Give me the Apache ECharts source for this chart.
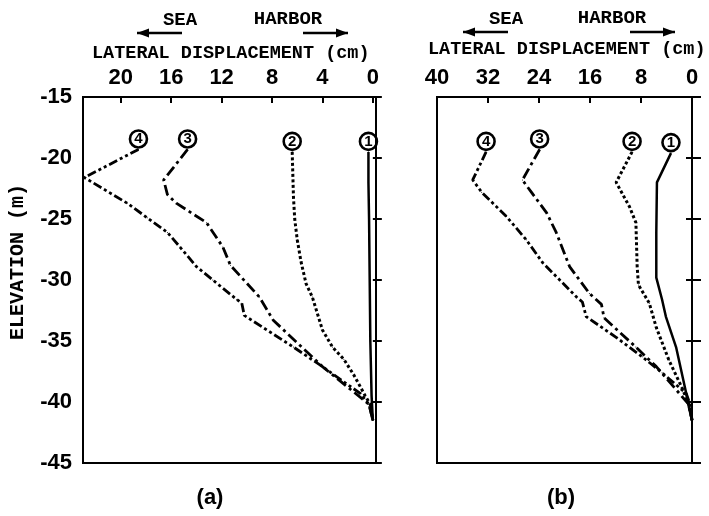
<!DOCTYPE html>
<html>
<head>
<meta charset="utf-8">
<script src="https://cdn.jsdelivr.net/npm/echarts@6/dist/echarts.min.js"></script>
<style>html,body{margin:0;padding:0;background:#fff}#c{width:709px;height:516px}</style>
</head>
<body>
<div id="c"></div>
<script>
// ---- data: [lateral displacement (cm), elevation (m)] ----
var ticksA = [0, 4, 8, 12, 16, 20];
var ticksB = [0, 8, 16, 24, 32, 40];
var curveNames = ['1', '2', '3', '4'];

var a1 = [[0.35,-19.5],[0.35,-22],[0.3,-25],[0.25,-30],[0.2,-35],[0.1,-39.5],[0,-41.5]];
var a2 = [[6.4,-19.5],[6.3,-23.2],[6.2,-25],[6.0,-26.7],[5.7,-28.5],[5.3,-30.3],[4.8,-31.4],[4.0,-34.1],[3.2,-35.5],[2.3,-36.5],[1.5,-37.8],[0.6,-39.5],[0.2,-40.2],[0,-41.5]];
var a3 = [[14.7,-19.3],[16.6,-21.8],[16.3,-23.0],[15.6,-23.7],[13.2,-25.3],[11.9,-27.3],[11.3,-28.8],[9.0,-31.4],[7.9,-33.3],[4.0,-37.1],[0.3,-40.2],[0,-41.5]];
var a4 = [[18.6,-19.3],[22.9,-21.6],[19.5,-23.7],[17.9,-24.9],[16.3,-26.1],[15.3,-27.3],[14.0,-28.9],[12.7,-30],[10.8,-31.6],[10.4,-31.9],[10.2,-32.9],[6.3,-35.5],[4.0,-37.1],[1.0,-39.3],[0.3,-40.2],[0,-41.5]];

var b1 = [[3.3,-19.6],[5.5,-22.0],[5.6,-26.1],[5.6,-29.8],[4.7,-31.6],[4.1,-33.0],[2.5,-35.5],[0.9,-39.3],[0.5,-40.4],[0,-41.5]];
var b2 = [[9.4,-19.5],[11.9,-22.0],[9.8,-24.0],[8.8,-25.3],[8.6,-28.9],[8.4,-30.4],[6.7,-31.9],[5.6,-33.9],[3.6,-36.6],[1.6,-38.8],[0.5,-40.2],[0,-41.5]];
var b3 = [[23.9,-19.3],[26.6,-21.8],[25.2,-22.8],[22.8,-24.5],[21.3,-26.1],[19.2,-28.9],[16.1,-31.1],[14.2,-32.0],[13.8,-33.1],[8.8,-35.5],[5.6,-37.1],[0.5,-40.2],[0,-41.5]];
var b4 = [[32.3,-19.5],[34.4,-21.8],[33.0,-22.8],[29.1,-24.8],[26.0,-26.7],[23.4,-28.6],[18.1,-31.4],[17.2,-31.8],[16.6,-33.0],[11.9,-34.7],[7.8,-36.3],[4.7,-37.6],[0.9,-39.3],[0.3,-40.2],[0,-41.5]];

var styles = [
  {type: 'solid', width: 2.5},
  {type: [3, 2.5], width: 3},
  {type: [11, 4, 3, 4], width: 2.8},
  {type: [9, 3, 3, 3, 3, 3], width: 2.8}
];

var mono = '"Liberation Mono", "DejaVu Sans Mono", monospace';
var sans = '"Liberation Sans", Arial, sans-serif';

function mkSeries(pts, idx, gi) {
  var data = pts.map(function (p, i) {
    if (i === 0) {
      return {
        value: p,
        label: {
          show: true, position: 'top', distance: 1,
          formatter: '{c|' + curveNames[idx] + '}',
          rich: {c: {width: 17, height: 17, lineHeight: 18, borderRadius: 12, borderWidth: 2.6,
            borderColor: '#000', align: 'center', fontWeight: 'bold', fontSize: 15,
            fontFamily: sans, color: '#000'}}
        }
      };
    }
    return p;
  });
  return {
    type: 'line', xAxisIndex: gi, yAxisIndex: gi === 0 ? 0 : 1,
    data: data, symbol: 'circle', symbolSize: 1, showSymbol: true,
    itemStyle: {color: '#000'},
    lineStyle: {color: '#000', width: styles[idx].width, type: styles[idx].type},
    emphasis: {disabled: true}, silent: true, z: 3
  };
}

var series = [];
[a1, a2, a3, a4].forEach(function (s, i) { series.push(mkSeries(s, i, 0)); });
[b1, b2, b3, b4].forEach(function (s, i) { series.push(mkSeries(s, i, 1)); });

function arrow(x1, x2, y, dir) {
  var head = dir < 0 ? [[x1, y], [x1 + 12, y - 4.5], [x1 + 12, y + 4.5]]
                     : [[x2, y], [x2 - 12, y - 4.5], [x2 - 12, y + 4.5]];
  return [
    {type: 'line', shape: {x1: x1, y1: y, x2: x2, y2: y}, style: {stroke: '#000', lineWidth: 2.5}},
    {type: 'polygon', shape: {points: head}, style: {fill: '#000'}}
  ];
}
function txt(t, x, y, font, align) {
  return {type: 'text', x: x, y: y, style: {text: t, font: font, fill: '#000',
    textAlign: align || 'center', textVerticalAlign: 'middle'}};
}

var graphics = [
  txt('SEA', 180, 20, 'bold 19px ' + mono),
  txt('HARBOR', 288, 19, 'bold 19px ' + mono),
  txt('LATERAL DISPLACEMENT (cm)', 92, 53, 'bold 18.5px ' + mono, 'left'),
  txt('SEA', 506, 19, 'bold 19px ' + mono),
  txt('HARBOR', 612, 18, 'bold 19px ' + mono),
  txt('LATERAL DISPLACEMENT (cm)', 428, 49, 'bold 18.5px ' + mono, 'left'),
  {type: 'text', x: 18, y: 262, rotation: Math.PI / 2,
    style: {text: 'ELEVATION (m)', font: 'bold 20px ' + mono, fill: '#000', textAlign: 'center', textVerticalAlign: 'middle'}},
  txt('(a)', 210, 498, 'bold 22px ' + sans),
  txt('(b)', 561, 498, 'bold 22px ' + sans)
].concat(arrow(137, 182, 33, -1), arrow(303, 348, 33, 1), arrow(463, 508, 32, -1), arrow(630, 675, 32, 1));

var tickLabelStyle = {color: '#000', fontSize: 22, fontWeight: 'bold', fontFamily: sans};

var option = {
  animation: false,
  backgroundColor: '#fff',
  grid: [
    {left: 83, top: 97, width: 293, height: 366, show: true, borderColor: '#000', borderWidth: 2, backgroundColor: 'transparent'},
    {left: 437, top: 97, width: 255, height: 366, show: true, borderColor: '#000', borderWidth: 2, backgroundColor: 'transparent'}
  ],
  xAxis: [
    {type: 'value', gridIndex: 0, position: 'top', inverse: true, min: -0.25, max: 23,
      axisLine: {show: false}, splitLine: {show: false},
      axisTick: {show: true, inside: true, length: 6, lineStyle: {color: '#000', width: 2}, customValues: ticksA},
      axisLabel: Object.assign({margin: 8, customValues: ticksA}, tickLabelStyle)},
    {type: 'value', gridIndex: 1, position: 'top', inverse: true, min: 0, max: 40, interval: 8,
      axisLine: {show: false}, splitLine: {show: false},
      axisTick: {show: true, inside: true, length: 6, lineStyle: {color: '#000', width: 2}},
      axisLabel: Object.assign({margin: 8, customValues: ticksB}, tickLabelStyle)}
  ],
  yAxis: [
    {type: 'value', gridIndex: 0, min: -45, max: -15, interval: 5,
      axisLine: {show: false}, splitLine: {show: false},
      axisTick: {show: true, inside: true, length: 9, lineStyle: {color: '#000', width: 2}},
      axisLabel: Object.assign({margin: 11}, tickLabelStyle)},
    {type: 'value', gridIndex: 1, min: -45, max: -15, interval: 5,
      axisLine: {show: false}, splitLine: {show: false},
      axisTick: {show: true, inside: true, length: 9, lineStyle: {color: '#000', width: 2}},
      axisLabel: {show: false}},
    {type: 'value', gridIndex: 1, position: 'right', min: -45, max: -15, interval: 5,
      axisLine: {show: false}, splitLine: {show: false},
      axisTick: {show: true, inside: true, length: 6, lineStyle: {color: '#000', width: 2}},
      axisLabel: {show: false}}
  ],
  series: series,
  graphic: graphics
};

var chart = echarts.init(document.getElementById('c'), null, {renderer: 'canvas'});
chart.setOption(option);
</script>
</body>
</html>
